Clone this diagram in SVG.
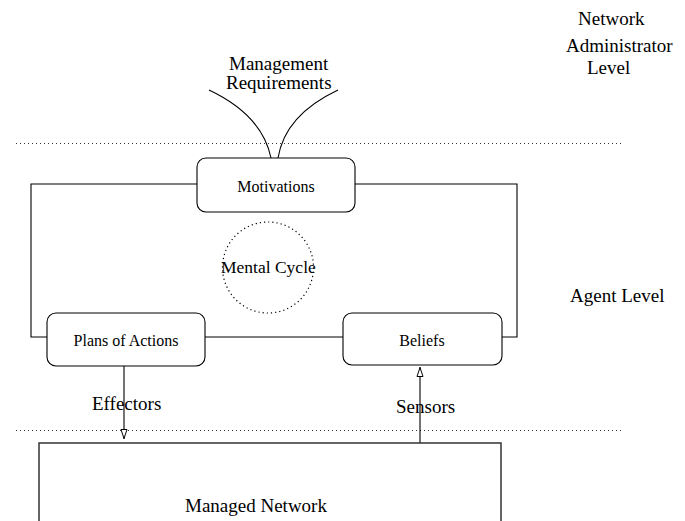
<svg xmlns="http://www.w3.org/2000/svg" width="685" height="521" viewBox="0 0 685 521">
<defs>
<marker id="openArrow" viewBox="0 0 10 8" refX="10" refY="4" markerWidth="10" markerHeight="8" markerUnits="userSpaceOnUse" orient="auto">
<path d="M0.5,1 L9.5,4 L0.5,7 Z" fill="#fff" stroke="#000" stroke-width="1"/>
</marker>
</defs>
<style>
.box{fill:#fff;stroke:#000;stroke-width:1.1}
.ln{fill:none;stroke:#000;stroke-width:1.1}
.dot{fill:none;stroke:#333;stroke-width:1;stroke-dasharray:1 3}
.t{font-family:"Liberation Serif","Times New Roman",serif;fill:#000}
.big{font-size:19px}
.sm{font-size:16px}
</style>
<rect width="685" height="521" fill="#fff"/>
<g id="levels">
<line class="dot" x1="16" y1="143.5" x2="623" y2="143.5"/>
<line class="dot" x1="16" y1="430.5" x2="623" y2="430.5"/>
<text class="t big" x="578" y="25">Network</text>
<text class="t big" x="566" y="52">Administrator</text>
<text class="t big" x="587" y="74">Level</text>
<text class="t big" x="570" y="302">Agent Level</text>
</g>
<g id="connectors">
<path class="ln" d="M197,184 H31 V337 H47"/>
<path class="ln" d="M355,184 H517 V337 H502"/>
<line class="ln" x1="205" y1="337" x2="343" y2="337"/>
<path class="ln" d="M209,90 Q262,115 271,158"/>
<path class="ln" d="M338,90 Q285,115 278,158"/>
<line class="ln" x1="124" y1="366" x2="124" y2="439" marker-end="url(#openArrow)"/>
<line class="ln" x1="420" y1="443" x2="420" y2="367" marker-end="url(#openArrow)"/>
<text class="t big" x="92" y="410">Effectors</text>
<text class="t big" x="396" y="413">Sensors</text>
</g>
<g id="requirements">
<text class="t big" x="229" y="70">Management</text>
<text class="t big" x="226" y="89">Requirements</text>
</g>
<g id="motivations">
<rect class="box" x="197" y="158" width="158" height="54" rx="9"/>
<text class="t sm" x="276" y="192" text-anchor="middle">Motivations</text>
</g>
<g id="mental-cycle">
<circle cx="268" cy="267.5" r="45.5" fill="none" stroke="#000" stroke-width="1.2" stroke-dasharray="1.2 3"/>
<text class="t" font-size="17.5" x="221" y="273">Mental Cycle</text>
</g>
<g id="plans">
<rect class="box" x="47" y="313" width="158" height="53" rx="9"/>
<text class="t sm" x="126" y="346" text-anchor="middle">Plans of Actions</text>
</g>
<g id="beliefs">
<rect class="box" x="343" y="313" width="159" height="52" rx="9"/>
<text class="t sm" x="422" y="346" text-anchor="middle">Beliefs</text>
</g>
<g id="managed-network">
<path d="M39,530 V443 H501 V530" fill="none" stroke="#333" stroke-width="1.5"/>
<text class="t big" x="185" y="512">Managed Network</text>
</g>
</svg>
